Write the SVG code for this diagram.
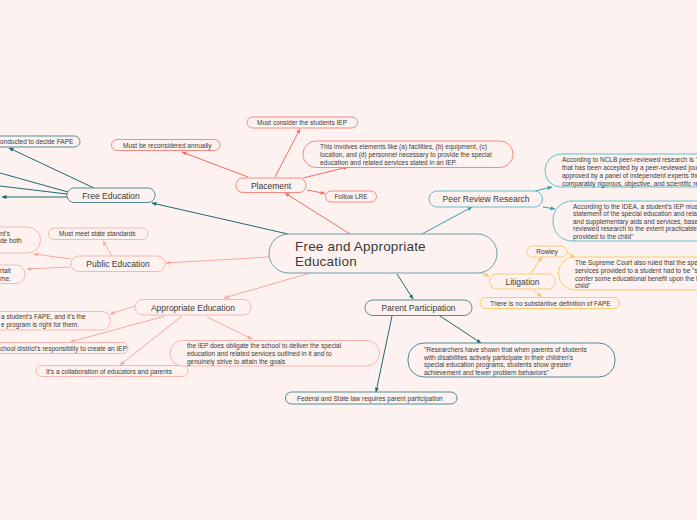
<svg xmlns="http://www.w3.org/2000/svg" width="697" height="520" viewBox="0 0 697 520">
<defs>
<style>
text{font-family:"Liberation Sans",Arial,sans-serif;fill:#3a3a3a}
.t{font-size:6.5px}
.n{font-size:8.5px;text-anchor:middle}
.bg{fill:#fdf2f0}
.dt{fill:#fdf2f0;stroke:#4f8c94;stroke-width:1}
.lt{fill:#fdf2f0;stroke:#62c0c8;stroke-width:1}
.sa{fill:#fdf2f0;stroke:#f48a80;stroke-width:1}
.ls{fill:#fdf2f0;stroke:#f9b6ae;stroke-width:1}
.ye{fill:#fdf2f0;stroke:#fccc70;stroke-width:1}
.c{fill:none;stroke-width:1}
.cdt{stroke:#1e6a74}
.clt{stroke:#2ea3ad}
.csa{stroke:#f36d63}
.cls{stroke:#f9a89f}
.cye{stroke:#fbc55c}
</style>
<marker id="mdt" viewBox="0 0 10 10" refX="9" refY="5" markerWidth="5" markerHeight="5" orient="auto"><path d="M0,1 L10,5 L0,9 z" fill="#1e6a74"/></marker>
<marker id="mlt" viewBox="0 0 10 10" refX="9" refY="5" markerWidth="5" markerHeight="5" orient="auto"><path d="M0,1 L10,5 L0,9 z" fill="#2ea3ad"/></marker>
<marker id="msa" viewBox="0 0 10 10" refX="9" refY="5" markerWidth="5" markerHeight="5" orient="auto"><path d="M0,1 L10,5 L0,9 z" fill="#f36d63"/></marker>
<marker id="mls" viewBox="0 0 10 10" refX="9" refY="5" markerWidth="5" markerHeight="5" orient="auto"><path d="M0,1 L10,5 L0,9 z" fill="#f9a89f"/></marker>
<marker id="mye" viewBox="0 0 10 10" refX="9" refY="5" markerWidth="5" markerHeight="5" orient="auto"><path d="M0,1 L10,5 L0,9 z" fill="#fbc55c"/></marker>
</defs>
<rect class="bg" x="0" y="0" width="697" height="520"/>

<g id="connectors">
<line class="c cdt" x1="288" y1="234" x2="152" y2="203" marker-end="url(#mdt)"/>
<line class="c cdt" x1="94" y1="188" x2="9" y2="148" marker-end="url(#mdt)"/>
<line class="c cdt" x1="68" y1="192" x2="0" y2="173"/>
<line class="c cdt" x1="67" y1="194" x2="0" y2="186"/>
<line class="c cdt" x1="67" y1="197" x2="2" y2="197" marker-end="url(#mdt)"/>
<line class="c csa" x1="350" y1="234" x2="285" y2="193" marker-end="url(#msa)"/>
<line class="c csa" x1="248" y1="177" x2="182" y2="152" marker-end="url(#msa)"/>
<line class="c csa" x1="275" y1="177" x2="300" y2="129" marker-end="url(#msa)"/>
<line class="c csa" x1="303" y1="178" x2="348" y2="167" marker-end="url(#msa)"/>
<line class="c csa" x1="307" y1="190" x2="325" y2="193.5" marker-end="url(#msa)"/>
<line class="c clt" x1="422" y1="234" x2="472" y2="207" marker-end="url(#mlt)"/>
<line class="c clt" x1="535" y1="191" x2="552" y2="187" marker-end="url(#mlt)"/>
<line class="c clt" x1="543" y1="207" x2="555" y2="209" marker-end="url(#mlt)"/>
<line class="c cye" x1="478" y1="272" x2="489" y2="276" marker-end="url(#mye)"/>
<line class="c cye" x1="530" y1="274" x2="542" y2="257" marker-end="url(#mye)"/>
<line class="c cye" x1="567" y1="252" x2="575" y2="258" marker-end="url(#mye)"/>
<line class="c cye" x1="533" y1="290" x2="542" y2="297" marker-end="url(#mye)"/>
<line class="c cdt" x1="397" y1="274" x2="413" y2="299" marker-end="url(#mdt)"/>
<line class="c cdt" x1="440" y1="316" x2="481" y2="343" marker-end="url(#mdt)"/>
<line class="c cdt" x1="392" y1="316" x2="376" y2="392" marker-end="url(#mdt)"/>
<line class="c cls" x1="269" y1="257" x2="166" y2="263" marker-end="url(#mls)"/>
<line class="c cls" x1="112" y1="256" x2="103" y2="241" marker-end="url(#mls)"/>
<line class="c cls" x1="71" y1="259" x2="34" y2="254" marker-end="url(#mls)"/>
<line class="c cls" x1="70" y1="267" x2="27" y2="269" marker-end="url(#mls)"/>
<line class="c cls" x1="310" y1="273" x2="224" y2="298" marker-end="url(#mls)"/>
<line class="c cls" x1="135" y1="306" x2="110" y2="314" marker-end="url(#mls)"/>
<line class="c cls" x1="165" y1="316" x2="70" y2="342" marker-end="url(#mls)"/>
<line class="c cls" x1="182" y1="316" x2="120" y2="365" marker-end="url(#mls)"/>
<line class="c cls" x1="207" y1="317" x2="252" y2="339" marker-end="url(#mls)"/>
</g>

<g id="central">
<rect class="dt" style="stroke:#6e9ea4" x="269" y="234" width="228" height="39" rx="19.5"/>
<text x="295" y="251" style="font-size:13.5px;letter-spacing:0.2px">Free and Appropriate</text>
<text x="295" y="266" style="font-size:13.5px;letter-spacing:0.2px">Education</text>
</g>

<g id="free-education">
<rect class="dt" x="67" y="188" width="88" height="14.5" rx="7"/>
<text class="n" x="111" y="198.5">Free Education</text>
</g>
<g id="fe-conducted">
<rect class="dt" x="-40" y="136" width="120" height="11" rx="5.5"/>
<text class="t" x="0" y="144">onducted to decide FAPE</text>
</g>

<g id="placement">
<rect class="sa" x="236" y="178" width="70" height="14.5" rx="7"/>
<text class="n" x="271" y="188.5">Placement</text>
</g>
<g id="pl-annual">
<rect class="sa" x="111.5" y="139.5" width="108.5" height="11" rx="5.5"/>
<text class="t" x="123" y="147.5">Must be reconsidered annually</text>
</g>
<g id="pl-iep">
<rect class="sa" x="247" y="117" width="110.5" height="11" rx="5.5"/>
<text class="t" x="257" y="125">Must consider the students IEP</text>
</g>
<g id="pl-elements">
<rect class="sa" x="303" y="141" width="210" height="26.5" rx="13"/>
<text class="t" x="320" y="148.5">This involves elements like (a) facilities, (b) equipment, (c)</text>
<text class="t" x="320" y="156.5">location, and (d) personnel necessary to provide the special</text>
<text class="t" x="320" y="164.5">education and related services stated in an IEP.</text>
</g>
<g id="pl-lre">
<rect class="sa" x="325.5" y="191" width="51" height="11" rx="5.5"/>
<text class="t" x="351" y="199" text-anchor="middle">Follow LRE</text>
</g>

<g id="peer-review">
<rect class="lt" x="429" y="191" width="113.5" height="16" rx="8"/>
<text class="n" x="486" y="202">Peer Review Research</text>
</g>
<g id="pr-nclb">
<rect class="lt" x="545" y="154" width="200" height="33" rx="16"/>
<text class="t" x="562" y="161.5">According to NCLB peer-reviewed research is "research</text>
<text class="t" x="562" y="169.5">that has been accepted by a peer-reviewed journal</text>
<text class="t" x="562" y="177.5">approved by a panel of independent experts through</text>
<text class="t" x="562" y="185.5">comparably rigorous, objective, and scientific review</text>
</g>
<g id="pr-idea">
<rect class="lt" x="553" y="201" width="200" height="40" rx="19"/>
<text class="t" x="573" y="208.5">According to the IDEA, a student's IEP must include a</text>
<text class="t" x="573" y="216">statement of the special education and related services</text>
<text class="t" x="573" y="223.5">and supplementary aids and services, based on peer-</text>
<text class="t" x="573" y="231">reviewed research to the extent practicable, to be</text>
<text class="t" x="573" y="238.5">provided to the child"</text>
</g>

<g id="litigation">
<rect class="ye" x="489.5" y="274" width="66" height="15" rx="7.5"/>
<text class="n" x="522.5" y="284.5">Litigation</text>
</g>
<g id="li-rowley">
<rect class="ye" x="527" y="246" width="40" height="11" rx="5.5"/>
<text class="t" x="547" y="254" text-anchor="middle">Rowley</text>
</g>
<g id="li-supreme">
<rect class="ye" x="558.5" y="257" width="200" height="33" rx="16"/>
<text class="t" x="575" y="265">The Supreme Court also ruled that the special education</text>
<text class="t" x="575" y="273">services provided to a student had to be "sufficient to</text>
<text class="t" x="575" y="280.5">confer some educational benefit upon the handicapped</text>
<text class="t" x="575" y="288">child"</text>
</g>
<g id="li-nodef">
<rect class="ye" x="480" y="297.5" width="139.5" height="11" rx="5.5"/>
<text class="t" x="490" y="305.5">There is no substantive definition of FAPE</text>
</g>

<g id="parent-participation">
<rect class="dt" x="365" y="300" width="107" height="15.5" rx="7.7"/>
<text class="n" x="418.5" y="310.5">Parent Participation</text>
</g>
<g id="pp-research">
<rect class="dt" x="408" y="343" width="207" height="34" rx="16"/>
<text class="t" x="424" y="351.5">"Researchers have shown that when parents of students</text>
<text class="t" x="424" y="359.5">with disabilities actively participate in their children's</text>
<text class="t" x="424" y="367">special education programs, students show greater</text>
<text class="t" x="424" y="375">achievement and fewer problem behaviors"</text>
</g>
<g id="pp-law">
<rect class="dt" x="285.5" y="392" width="171.5" height="12" rx="6"/>
<text class="t" x="297" y="400.5">Federal and State law requires parent participation</text>
</g>

<g id="public-education">
<rect class="ls" x="71" y="256" width="94" height="15.5" rx="7.7"/>
<text class="n" x="118" y="266.5">Public Education</text>
</g>
<g id="pu-standards">
<rect class="ls" x="48.5" y="228" width="99.5" height="11.5" rx="5.7"/>
<text class="t" x="59" y="236.3">Must meet state standards</text>
</g>
<g id="pu-left1">
<rect class="ls" x="-60" y="227" width="100.5" height="26" rx="13"/>
<text class="t" x="0" y="236">nt's</text>
<text class="t" x="0" y="243">de both</text>
</g>
<g id="pu-left2">
<rect class="ls" x="-60" y="265" width="85" height="18.5" rx="9"/>
<text class="t" x="0" y="273">rtait</text>
<text class="t" x="0" y="280.5">me.</text>
</g>

<g id="appropriate-education">
<rect class="ls" x="135" y="299.5" width="116" height="15.5" rx="7.7"/>
<text class="n" x="193" y="310.5">Appropriate Education</text>
</g>
<g id="ap-fape">
<rect class="ls" x="-60" y="311.5" width="170.5" height="18.5" rx="9"/>
<text class="t" x="1" y="319">a student's FAPE, and it's the</text>
<text class="t" x="1" y="326.5">e program is right for them.</text>
</g>
<g id="ap-district">
<rect class="ls" x="-60" y="342.5" width="188" height="11" rx="5.5"/>
<text class="t" x="0" y="350.5">chool district's responsiblity to create an IEP</text>
</g>
<g id="ap-collab">
<rect class="ls" x="36" y="365.5" width="152" height="11" rx="5.5"/>
<text class="t" x="46" y="373.5">It's a collaboration of educators and parents</text>
</g>
<g id="ap-obligate">
<rect class="ls" x="170" y="340.5" width="209.5" height="25.5" rx="12.7"/>
<text class="t" x="187" y="348">the IEP does obligate the school to deliver the special</text>
<text class="t" x="187" y="356">education and related services outlined in it and to</text>
<text class="t" x="187" y="363.5">genuinely strive to attain the goals</text>
</g>
</svg>
